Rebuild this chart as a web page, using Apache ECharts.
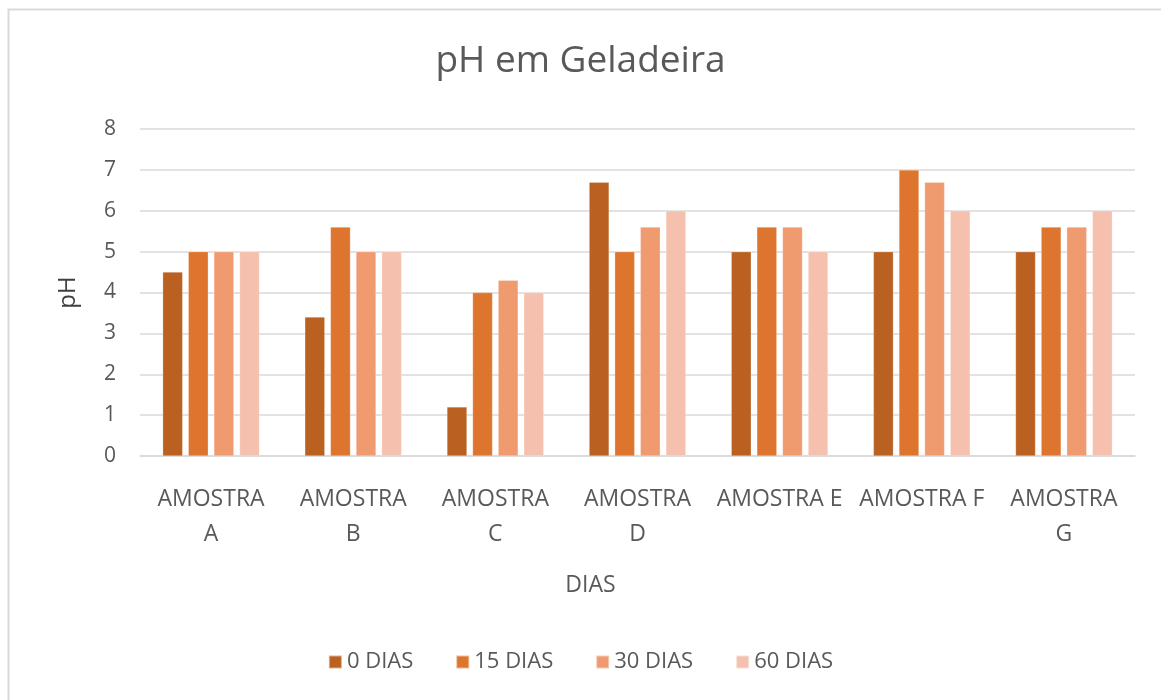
<!DOCTYPE html>
<html>
<head>
<meta charset="utf-8">
<script src="https://cdn.jsdelivr.net/npm/echarts@6/dist/echarts.min.js"></script>
<style>
  html, body { margin: 0; padding: 0; background: #fff; }
  #chart { width: 1161px; height: 700px; }
</style>
</head>
<body>
<div id="chart"></div>
<script>
// categorias e dados
var categorias = ['AMOSTRA\nA', 'AMOSTRA\nB', 'AMOSTRA\nC', 'AMOSTRA\nD', 'AMOSTRA E', 'AMOSTRA F', 'AMOSTRA\nG'];
var dias0  = [4.5, 3.4, 1.2, 6.7, 5, 5, 5];
var dias15 = [5, 5.6, 4, 5, 5.6, 7, 5.6];
var dias30 = [5, 5, 4.3, 5.6, 5.6, 6.7, 5.6];
var dias60 = [5, 5, 4, 6, 5, 6, 6];
var nomesSeries = ['0 DIAS', '15 DIAS', '30 DIAS', '60 DIAS'];
var cores = ['#BA6122', '#DE752E', '#F09A70', '#F5C1AE'];

var fonte = '"Open Sans", sans-serif';
var myChart = echarts.init(document.getElementById('chart'));

function serie(i, dados) {
  return {
    name: nomesSeries[i],
    type: 'bar',
    data: dados,
    barWidth: 20,
    barGap: '28%',
    itemStyle: { color: cores[i], borderColor: 'rgba(255,255,255,0.5)', borderWidth: 0.5 }
  };
}

var option = {
  animation: false,
  textStyle: { fontFamily: fonte },
  title: {
    text: 'pH em Geladeira',
    left: 'center',
    top: 38,
    textStyle: { fontFamily: fonte, fontSize: 37, fontWeight: 'normal', color: '#595959' }
  },
  graphic: [{
    type: 'rect',
    shape: { x: 8.5, y: 9.5, width: 1200, height: 800 },
    style: { fill: 'none', stroke: '#d9d9d9', lineWidth: 2 },
    silent: true
  }],
  legend: {
    data: nomesSeries,
    bottom: 22,
    left: 'center',
    itemWidth: 13,
    itemHeight: 13,
    itemGap: 42,
    icon: 'rect',
    textStyle: { fontFamily: fonte, fontSize: 22, color: '#595959' }
  },
  grid: { left: 140, right: 26, top: 129, bottom: 244, containLabel: false },
  xAxis: {
    type: 'category',
    data: categorias,
    name: 'DIAS',
    nameLocation: 'middle',
    nameGap: 118,
    nameTextStyle: { fontFamily: fonte, fontSize: 23, color: '#595959', padding: [0, 94, 0, 0] },
    axisLine: { lineStyle: { color: '#d9d9d9', width: 1.5 } },
    axisTick: { show: false },
    axisLabel: { fontFamily: fonte, fontSize: 23, color: '#595959', margin: 26, lineHeight: 35, interval: 0 }
  },
  yAxis: {
    type: 'value',
    min: 0,
    max: 8,
    interval: 1,
    name: 'pH',
    nameLocation: 'middle',
    nameGap: 60,
    nameTextStyle: { fontFamily: fonte, fontSize: 24, color: '#404040' },
    axisLine: { show: false },
    axisTick: { show: false },
    axisLabel: { fontFamily: fonte, fontSize: 21, color: '#595959', margin: 24 },
    splitLine: { lineStyle: { color: '#d9d9d9', width: 1.5 } }
  },
  series: [
    serie(0, dias0),
    serie(1, dias15),
    serie(2, dias30),
    serie(3, dias60)
  ]
};

myChart.setOption(option);
</script>
</body>
</html>
